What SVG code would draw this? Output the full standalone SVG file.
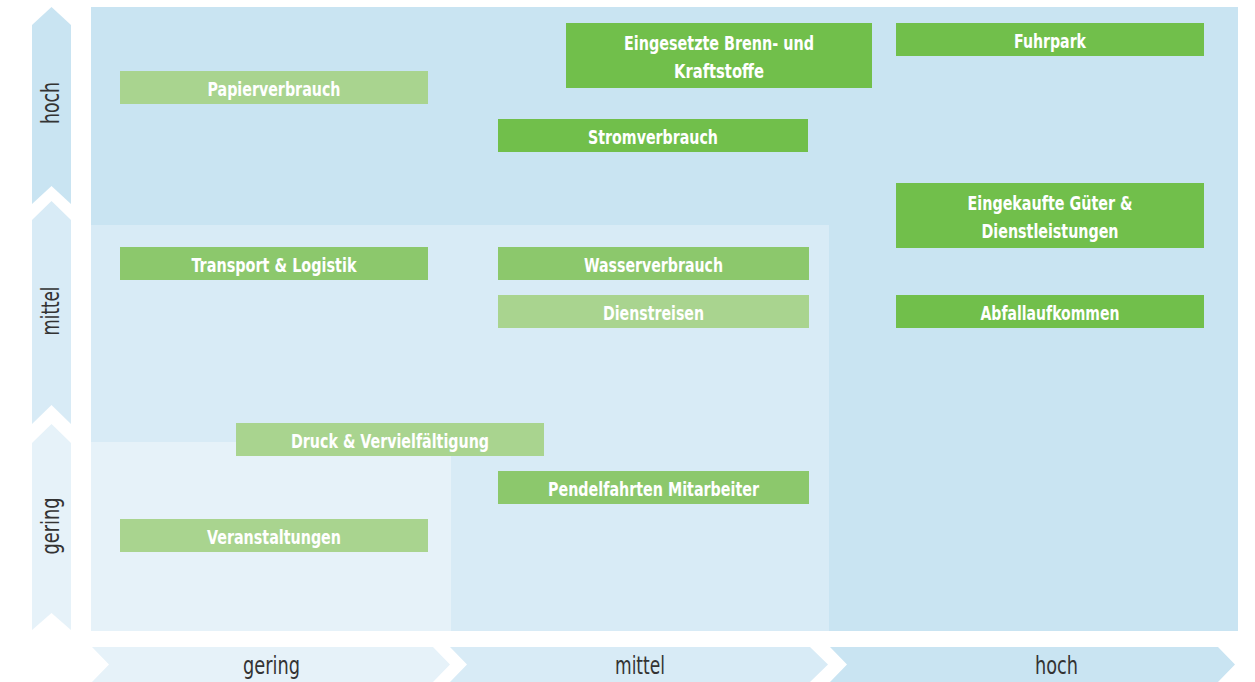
<svg xmlns="http://www.w3.org/2000/svg" width="1255" height="682" viewBox="0 0 1255 682">
<style>
.bg-h{fill:#C9E4F2}.bg-m{fill:#D8EBF6}.bg-g{fill:#E6F2F9}
.g1{fill:#71BF4B}.g2{fill:#8CC86C}.g3{fill:#A9D48F}
.lbl{font-family:"Liberation Sans Narrow","DejaVu Sans Condensed","Roboto Condensed",sans-serif;font-stretch:condensed;font-weight:bold;font-size:19px;fill:#FFFFFF;text-anchor:middle}
.ax{font-family:"Liberation Sans Narrow","DejaVu Sans Condensed","Roboto Condensed",sans-serif;font-stretch:condensed;font-size:24px;fill:#333333;text-anchor:middle}
</style>
<g id="background">
<rect class="bg-h" x="91" y="7" width="1147" height="624"/>
<rect class="bg-m" x="91" y="225" width="738" height="406"/>
<rect class="bg-g" x="91" y="442" width="360" height="189"/>
</g>
<g id="y-axis">
<polygon class="bg-h" points="51.5,7 71,25 71,204 51.5,186 32,204 32,25"/>
<polygon class="bg-m" points="51.5,201 71,220 71,424 51.5,405 32,424 32,220"/>
<polygon class="bg-g" points="51.5,424 71,443 71,630 51.5,613 32,630 32,443"/>
<text class="ax" transform="translate(59,103) rotate(-90)" textLength="42" lengthAdjust="spacingAndGlyphs">hoch</text>
<text class="ax" transform="translate(59,311) rotate(-90)" textLength="49" lengthAdjust="spacingAndGlyphs">mittel</text>
<text class="ax" transform="translate(59,526) rotate(-90)" textLength="57" lengthAdjust="spacingAndGlyphs">gering</text>
</g>
<g id="x-axis">
<polygon class="bg-g" points="92,647 433,647 450,664.5 433,682 92,682 109,664.5"/>
<polygon class="bg-m" points="450,647 810,647 828,664.5 810,682 450,682 467,664.5"/>
<polygon class="bg-h" points="830,647 1218,647 1235,664.5 1218,682 830,682 847,664.5"/>
<text class="ax" x="271.5" y="674" textLength="57" lengthAdjust="spacingAndGlyphs">gering</text>
<text class="ax" x="640" y="674" textLength="50" lengthAdjust="spacingAndGlyphs">mittel</text>
<text class="ax" x="1056.5" y="674" textLength="43" lengthAdjust="spacingAndGlyphs">hoch</text>
</g>
<g id="connectors"/>
<g id="n-papier"><rect class="g3" x="120" y="71" width="308" height="33"/><text class="lbl" x="274" y="96" textLength="133" lengthAdjust="spacingAndGlyphs">Papierverbrauch</text></g>
<g id="n-brenn"><rect class="g1" x="566" y="23" width="306" height="65"/><text class="lbl" x="719" y="50" textLength="190" lengthAdjust="spacingAndGlyphs">Eingesetzte Brenn- und</text><text class="lbl" x="719" y="78" textLength="90" lengthAdjust="spacingAndGlyphs">Kraftstoffe</text></g>
<g id="n-strom"><rect class="g1" x="498" y="119" width="310" height="33"/><text class="lbl" x="653" y="144" textLength="130" lengthAdjust="spacingAndGlyphs">Stromverbrauch</text></g>
<g id="n-fuhrpark"><rect class="g1" x="896" y="23" width="308" height="33"/><text class="lbl" x="1050" y="48" textLength="72" lengthAdjust="spacingAndGlyphs">Fuhrpark</text></g>
<g id="n-gueter"><rect class="g1" x="896" y="183" width="308" height="65"/><text class="lbl" x="1050" y="210" textLength="165" lengthAdjust="spacingAndGlyphs">Eingekaufte Güter &amp;</text><text class="lbl" x="1050" y="238" textLength="137" lengthAdjust="spacingAndGlyphs">Dienstleistungen</text></g>
<g id="n-abfall"><rect class="g1" x="896" y="295" width="308" height="33"/><text class="lbl" x="1050" y="320" textLength="139" lengthAdjust="spacingAndGlyphs">Abfallaufkommen</text></g>
<g id="n-transport"><rect class="g2" x="120" y="247" width="308" height="33"/><text class="lbl" x="274" y="272" textLength="165" lengthAdjust="spacingAndGlyphs">Transport &amp; Logistik</text></g>
<g id="n-wasser"><rect class="g2" x="498" y="247" width="311" height="33"/><text class="lbl" x="653.5" y="272" textLength="139" lengthAdjust="spacingAndGlyphs">Wasserverbrauch</text></g>
<g id="n-dienstreisen"><rect class="g3" x="498" y="295" width="311" height="33"/><text class="lbl" x="653.5" y="320" textLength="101" lengthAdjust="spacingAndGlyphs">Dienstreisen</text></g>
<g id="n-druck"><rect class="g3" x="236" y="423" width="308" height="33"/><text class="lbl" x="390" y="448" textLength="198" lengthAdjust="spacingAndGlyphs">Druck &amp; Vervielfältigung</text></g>
<g id="n-pendel"><rect class="g2" x="498" y="471" width="311" height="33"/><text class="lbl" x="653.5" y="496" textLength="211" lengthAdjust="spacingAndGlyphs">Pendelfahrten Mitarbeiter</text></g>
<g id="n-veranst"><rect class="g3" x="120" y="519" width="308" height="33"/><text class="lbl" x="274" y="544" textLength="134" lengthAdjust="spacingAndGlyphs">Veranstaltungen</text></g>
</svg>
